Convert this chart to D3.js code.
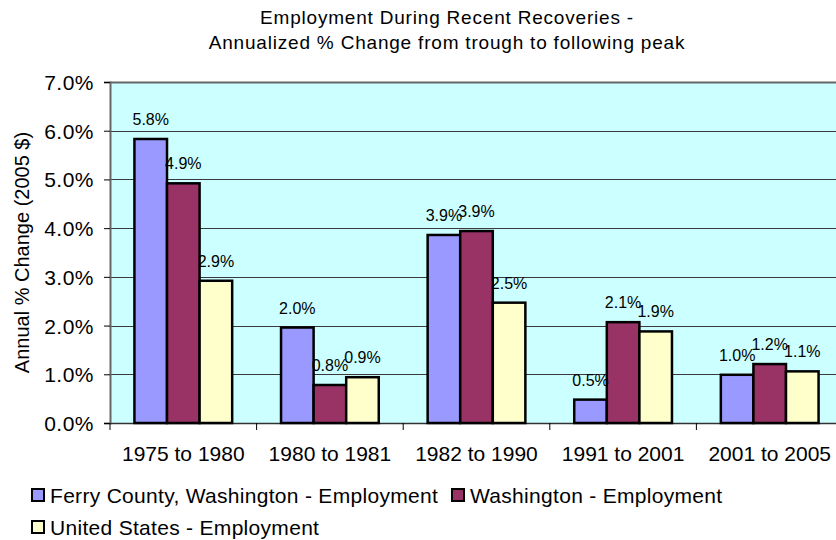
<!DOCTYPE html>
<html>
<head>
<meta charset="utf-8">
<script src="https://cdn.jsdelivr.net/npm/d3@7"></script>
<style>
    body { margin: 0; background: #fff; }
    svg text { font-family: "Liberation Sans", Arial, sans-serif; fill: #000; }
</style>
</head>
<body>
<div id="chart"></div>
<script>
// periods on the x axis
const periods = ["1975 to 1980", "1980 to 1981", "1982 to 1990", "1991 to 2001", "2001 to 2005"];

// series names
const seriesNames = [
    "Ferry County, Washington - Employment",
    "Washington - Employment",
    "United States - Employment"
];

// annualized % change per period
const ferryValues = [5.83, 1.96, 3.86, 0.48, 0.99];
const washingtonValues = [4.92, 0.78, 3.94, 2.07, 1.21];
const usValues = [2.92, 0.94, 2.47, 1.88, 1.06];

// printed labels
const ferryLabels = ["5.8%", "2.0%", "3.9%", "0.5%", "1.0%"];
const washingtonLabels = ["4.9%", "0.8%", "3.9%", "2.1%", "1.2%"];
const usLabels = ["2.9%", "0.9%", "2.5%", "1.9%", "1.1%"];

const yTicks = [0, 1, 2, 3, 4, 5, 6, 7];

const seriesColors = ["#9999ff", "#993366", "#ffffcc"];

const width = 836, height = 540;
const margin = {top: 82, left: 110, bottom: 117};
// plot area runs past the right edge of the picture
const plotWidth = 733;
const plotHeight = height - margin.top - margin.bottom;

let svg = d3.select("#chart").append("svg")
    .attr("width", width)
    .attr("height", height);

// build table
let allValues = [ferryValues, washingtonValues, usValues];
let allLabels = [ferryLabels, washingtonLabels, usLabels];
let table = periods.map((p, i) => ({
    period: p,
    bars: seriesNames.map((s, j) => ({series: j, value: allValues[j][i], label: allLabels[j][i]}))
}));

// scales
let x0 = d3.scaleBand().domain(periods).range([0, plotWidth]).padding(0);
let band = x0.bandwidth();
let x1 = d3.scaleBand().domain([0, 1, 2]).range([band / 6, band * 5 / 6]).padding(0);
let y = d3.scaleLinear().domain([0, 7]).range([plotHeight, 0]);

let g = svg.append("g")
    .attr("transform", `translate(${margin.left}, ${margin.top})`);

// background
g.append("rect")
    .attr("x", 0).attr("y", 0)
    .attr("width", plotWidth).attr("height", plotHeight)
    .attr("fill", "#ccffff");

// gridlines
g.selectAll(".grid").data(yTicks.filter(d => d > 0))
    .enter().append("line")
    .attr("class", "grid")
    .attr("x1", 0).attr("x2", plotWidth)
    .attr("y1", d => Math.round(y(d)) + 0.5)
    .attr("y2", d => Math.round(y(d)) + 0.5)
    .attr("stroke", d => d === 7 ? "#666" : "#3a3a3a")
    .attr("stroke-width", d => d === 7 ? 2 : 1);

// y axis
let yAxis = g.append("g")
    .call(d3.axisLeft(y).tickValues(yTicks).tickSize(6).tickPadding(10)
        .tickFormat(d => d.toFixed(1) + "%"));
yAxis.select(".domain").attr("stroke", "#666").attr("stroke-width", 2);
yAxis.selectAll(".tick line").attr("stroke", "#000");
yAxis.selectAll("text").style("font-size", "21px").style("letter-spacing", "0.5px").attr("dy", "0.36em");

// x axis
let xAxis = g.append("g")
    .attr("transform", `translate(0, ${plotHeight})`)
    .call(d3.axisBottom(x0).tickSize(0).tickPadding(22).tickSizeOuter(0));
xAxis.select(".domain").attr("stroke", "#333").attr("stroke-width", 1.5);
xAxis.selectAll("text").style("font-size", "21px").attr("y", 38).attr("dy", 0);

// x ticks between categories
g.selectAll(".xtick").data(d3.range(periods.length + 1))
    .enter().append("line")
    .attr("class", "xtick")
    .attr("x1", i => i * band).attr("x2", i => i * band)
    .attr("y1", plotHeight).attr("y2", plotHeight + 7)
    .attr("stroke", "#000");

// bars
let groups = g.selectAll(".group").data(table)
    .enter().append("g")
    .attr("class", "group")
    .attr("transform", d => `translate(${x0(d.period)}, 0)`);

groups.selectAll("rect").data(d => d.bars)
    .enter().append("rect")
    .attr("x", d => x1(d.series))
    .attr("y", d => y(d.value))
    .attr("width", x1.bandwidth())
    .attr("height", d => plotHeight - y(d.value))
    .attr("fill", d => seriesColors[d.series])
    .attr("stroke", "#000")
    .attr("stroke-width", 2.5);

// data labels
groups.selectAll(".val").data(d => d.bars)
    .enter().append("text")
    .attr("class", "val")
    .attr("x", d => x1(d.series) + x1.bandwidth() / 2)
    .attr("y", d => y(d.value) - 14)
    .attr("text-anchor", "middle")
    .style("font-size", "16px")
    .text(d => d.label);

// y axis title
svg.append("text")
    .attr("transform", `translate(29, ${margin.top + plotHeight / 2}) rotate(-90)`)
    .attr("text-anchor", "middle")
    .style("font-size", "20px")
    .text("Annual % Change (2005 $)");

// chart title
svg.append("text")
    .attr("x", 447).attr("y", 24)
    .attr("text-anchor", "middle")
    .style("font-size", "19px")
    .style("letter-spacing", "0.8px")
    .text("Employment During Recent Recoveries -");
svg.append("text")
    .attr("x", 447).attr("y", 49)
    .attr("text-anchor", "middle")
    .style("font-size", "19px")
    .style("letter-spacing", "0.8px")
    .text("Annualized % Change from trough to following peak");

// legend
let legendPos = [{x: 32, y: 503}, {x: 452, y: 503}, {x: 32, y: 535}];
let legend = svg.selectAll(".legend").data(seriesNames)
    .enter().append("g")
    .attr("class", "legend")
    .attr("transform", (d, i) => `translate(${legendPos[i].x}, ${legendPos[i].y})`);

legend.append("rect")
    .attr("x", 0).attr("y", -14)
    .attr("width", 12).attr("height", 12)
    .attr("fill", (d, i) => seriesColors[i])
    .attr("stroke", "#000")
    .attr("stroke-width", 2);

legend.append("text")
    .attr("x", 18).attr("y", 0)
    .style("font-size", "21px")
    .style("letter-spacing", "0.3px")
    .text(d => d);
</script>
</body>
</html>
